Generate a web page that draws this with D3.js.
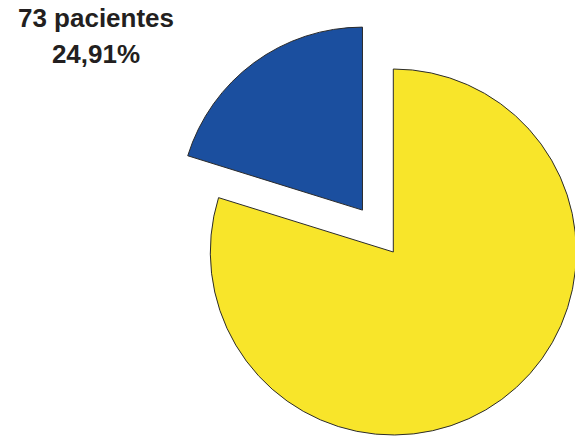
<!DOCTYPE html>
<html>
<head>
<meta charset="utf-8">
<script src="https://cdn.jsdelivr.net/npm/d3@7"></script>
<style>
  body { margin: 0; background: #fff; }
  .lbl { font-family: "Liberation Sans", Arial, sans-serif; font-weight: bold; font-size: 26px; fill: #231f20; }
</style>
</head>
<body>
<div class="pie"></div>
<script>
var svg_width = 575;
var svg_height = 436;

// Slices as drawn (share of the circle), yellow first from 12 o'clock
var categories = ["otros", "73 pacientes"];
var shares = [79.8, 20.2];
var colors = ["#f8e52a", "#1b4f9f"];
var exploded = [false, true];
var labelLines = ["73 pacientes", "24,91%"];

var cx = 393.3, cy = 252, radius = 183, explode = 52;

var svg = d3.select(".pie")
    .append("svg")
    .attr("width", svg_width)
    .attr("height", svg_height);

var pieGroup = svg.append("g")
    .attr("transform", `translate(${cx}, ${cy})`);

var pie = d3.pie().sort(null).value(d => d.value);
var arc = d3.arc().innerRadius(0).outerRadius(radius);

var slices = pie(categories.map((c, i) => ({ name: c, value: shares[i], color: colors[i], out: exploded[i] })));

pieGroup.selectAll("path")
    .data(slices)
    .enter()
    .append("path")
    .attr("d", arc)
    .attr("fill", d => d.data.color)
    .attr("stroke", "#2b2b2b")
    .attr("stroke-width", 1)
    .attr("transform", function(d) {
        if (!d.data.out) return null;
        var mid = (d.startAngle + d.endAngle) / 2;
        return `translate(${explode * Math.sin(mid)}, ${-explode * Math.cos(mid)})`;
    });

// Label
svg.selectAll("text.lbl")
    .data(labelLines)
    .enter()
    .append("text")
    .attr("class", "lbl")
    .attr("x", 96)
    .attr("y", (d, i) => 27 + i * 36)
    .attr("text-anchor", "middle")
    .text(d => d);
</script>
</body>
</html>
